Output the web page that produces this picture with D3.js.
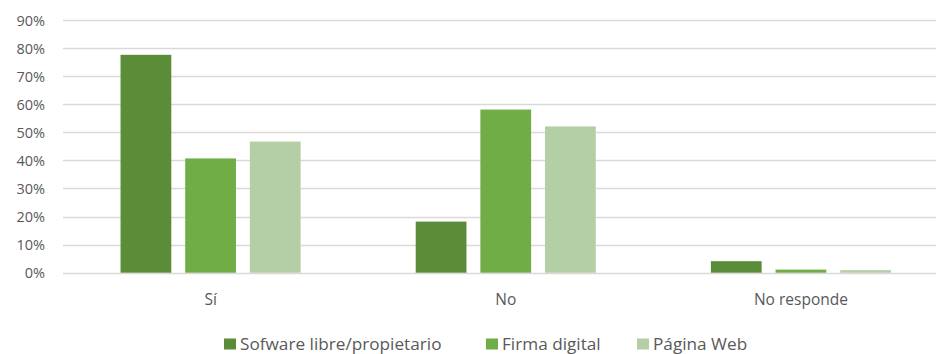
<!DOCTYPE html>
<html>
<head>
<meta charset="utf-8">
<script src="https://cdn.jsdelivr.net/npm/d3@7"></script>
<style>
  html, body { margin: 0; padding: 0; background: #fff; overflow: hidden; }
  svg { display: block; }
  text { font-family: "Open Sans", "Noto Sans", sans-serif; fill: #595959; }
</style>
</head>
<body>
<svg id="chart" width="936" height="354"></svg>
<script>
// Categories (answers) and series (tools)
const categories = ["Sí", "No", "No responde"];
const seriesNames = ["Sofware libre/propietario", "Firma digital", "Página Web"];
const softwareValues = [77.6, 18.2, 4.1];
const firmaValues = [40.7, 58.1, 1.1];
const webValues = [46.7, 52.1, 0.9];
const tickValues = [0, 10, 20, 30, 40, 50, 60, 70, 80, 90];
const seriesColors = ["#5b8c38", "#70ad47", "#b4cfa6"];

const seriesValues = [softwareValues, firmaValues, webValues];

const svg = d3.select("#chart");
const W = 936, H = 354;
const margin = { left: 63, right: -12.5, top: 20, bottom: 82 };

const x0 = d3.scaleBand()
  .domain(categories)
  .range([margin.left, W - margin.right])
  .paddingInner(0)
  .paddingOuter(0);

const x1 = d3.scaleBand()
  .domain(seriesNames)
  .range([0, x0.bandwidth()])
  .paddingInner(0.215)
  .paddingOuter(0.89);

const y = d3.scaleLinear()
  .domain([0, 90])
  .range([H - margin.bottom + 0.7, margin.top]);

// Horizontal gridlines
svg.append("g")
  .selectAll("line")
  .data(tickValues)
  .join("line")
  .attr("x1", margin.left)
  .attr("x2", W)
  .attr("y1", d => Math.round(y(d)) + 0.5)
  .attr("y2", d => Math.round(y(d)) + 0.5)
  .attr("stroke", "#d9d9d9")
  .attr("stroke-width", 1.3);

// Y axis labels
const yAxis = d3.axisLeft(y)
  .tickValues(tickValues)
  .tickFormat(d => d + "%")
  .tickSize(0)
  .tickPadding(0);

const gy = svg.append("g")
  .attr("transform", `translate(45,0)`)
  .call(yAxis);
gy.select(".domain").remove();
gy.selectAll("text")
  .attr("font-size", 14.5)
  .attr("font-family", "'Open Sans', sans-serif")
  .attr("fill", "#595959")
  .attr("dy", "0.36em");

// Bars
const groups = svg.append("g")
  .selectAll("g")
  .data(categories)
  .join("g")
  .attr("transform", d => `translate(${x0(d)},0)`);

groups.selectAll("rect")
  .data((c, ci) => seriesNames.map((s, si) => ({ s, si, v: seriesValues[si][ci] })))
  .join("rect")
  .attr("x", d => x1(d.s))
  .attr("width", x1.bandwidth())
  .attr("y", d => y(d.v))
  .attr("height", d => y(0) - y(d.v))
  .attr("fill", d => seriesColors[d.si]);

// Category labels
const xAxis = d3.axisBottom(x0).tickSize(0).tickPadding(0);
const gx = svg.append("g")
  .attr("transform", `translate(0,${y(0) + 27})`)
  .call(xAxis);
gx.select(".domain").remove();
gx.selectAll("text")
  .attr("font-size", 15.5)
  .attr("font-family", "'Open Sans', sans-serif")
  .attr("fill", "#595959")
  .attr("dy", "0.36em");

// Legend
const legendX = [224, 486, 637];
const legend = svg.append("g")
  .selectAll("g")
  .data(seriesNames)
  .join("g")
  .attr("transform", (d, i) => `translate(${legendX[i]},${343.5})`);

legend.append("rect")
  .attr("x", 0)
  .attr("y", -5)
  .attr("width", 12)
  .attr("height", 11)
  .attr("fill", (d, i) => seriesColors[i]);

legend.append("text")
  .attr("x", 16)
  .attr("y", 0)
  .attr("dy", "0.36em")
  .attr("font-size", 17.2)
  .text(d => d);
</script>
</body>
</html>
